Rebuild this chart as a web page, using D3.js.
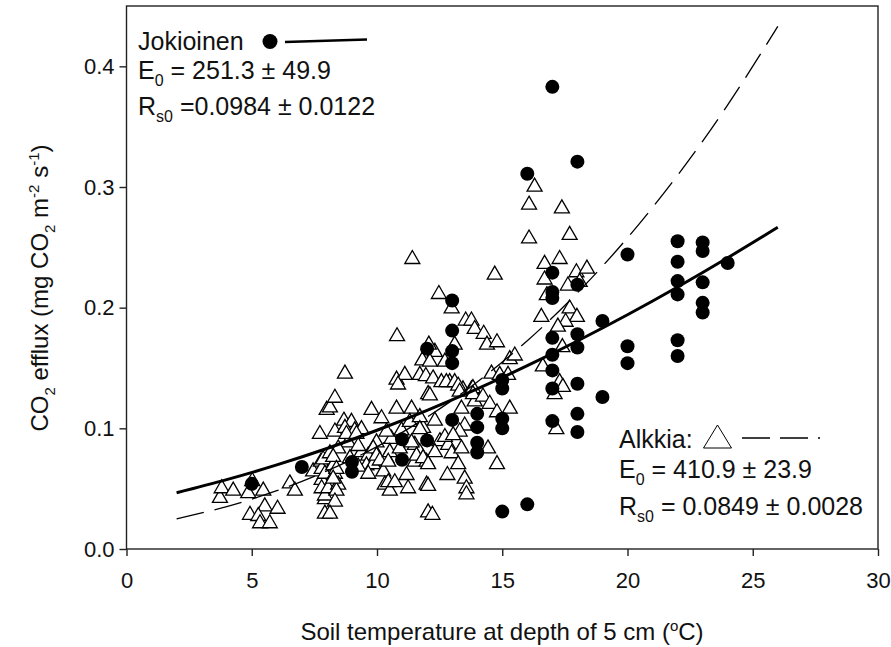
<!DOCTYPE html>
<html>
<head>
<meta charset="utf-8">
<script src="https://cdn.jsdelivr.net/npm/d3@7"></script>
<style>
  body { margin: 0; background: #fff; }
  svg text { font-family: "Liberation Sans", Arial, sans-serif; fill: #111; }
</style>
</head>
<body>
<svg id="chart" width="891" height="647"></svg>
<script>
// Jokioinen (filled circles): soil temp (C) and CO2 efflux
var jokiT = [5, 7, 9, 9, 11, 11, 12, 12,
  13, 13, 13, 13, 13, 14, 14, 14, 14,
  15, 15, 15, 15, 15, 16, 16,
  17, 17, 17, 17, 17, 17, 17, 17, 17,
  18, 18, 18, 18, 18, 18, 18, 19, 19,
  20, 20, 20, 22, 22, 22, 22, 22, 22,
  23, 23, 23, 23, 23, 24];
var jokiFlux = [0.054, 0.068, 0.072, 0.064, 0.091, 0.074, 0.166, 0.090,
  0.206, 0.181, 0.164, 0.154, 0.107, 0.112, 0.101, 0.088, 0.080,
  0.140, 0.133, 0.108, 0.100, 0.031, 0.311, 0.037,
  0.383, 0.229, 0.213, 0.208, 0.175, 0.161, 0.148, 0.133, 0.106,
  0.321, 0.219, 0.178, 0.167, 0.137, 0.112, 0.097, 0.189, 0.126,
  0.244, 0.168, 0.154, 0.255, 0.238, 0.222, 0.211, 0.173, 0.160,
  0.254, 0.247, 0.221, 0.204, 0.196, 0.237];

// Alkkia (open triangles)
var alkT = [3.73, 3.80, 4.26, 4.86, 5.02, 5.46, 5.52, 6.03, 4.93, 5.26, 5.33, 5.72,
  6.52, 6.72, 7.45, 7.72, 7.76, 7.79, 7.79, 7.79, 7.92, 7.92, 7.99, 7.85, 7.92, 7.92,
  8.12, 8.32, 8.72, 8.68, 8.98, 8.32, 8.72, 9.11, 8.85, 8.45, 8.12, 8.25, 8.32,
  8.05, 8.45, 8.38, 8.32, 8.12, 8.92, 8.25, 8.38, 8.25, 8.78,
  9.38, 9.78, 10.18, 9.38, 9.25, 9.65, 9.58, 9.25, 9.98, 9.85, 9.85, 9.18,
  9.98, 9.65, 10.38, 10.25, 10.11,
  10.78, 10.78, 11.11, 10.84, 10.98, 10.58, 10.38, 10.51, 10.91, 10.45, 10.31,
  10.51, 10.45, 10.71, 10.80,
  11.38, 11.71, 11.95, 12.04, 11.84, 11.31, 11.51, 11.71, 11.51, 11.98, 11.98,
  12.04, 12.21, 11.18, 11.24, 11.41, 11.81, 11.71, 11.38, 11.71, 11.58, 11.84,
  12.31, 12.71, 12.11, 12.24, 12.57, 12.90, 12.11, 12.31, 12.51, 12.84, 12.98,
  12.31, 12.04, 12.81, 12.04, 12.47, 12.98, 12.07, 12.71, 12.77,
  13.54, 13.77, 13.90, 13.10, 13.10, 13.43, 13.77, 13.24, 13.30, 13.83, 13.37,
  13.90, 13.50, 13.30, 13.04, 13.37, 13.24, 13.50, 13.57, 13.57, 13.83,
  14.26, 14.39, 14.79, 14.57, 14.23, 14.50, 14.79, 14.43, 14.79, 14.70, 14.90,
  15.30, 15.50, 15.30, 15.23,
  16.29, 16.07, 17.38, 16.07, 17.69, 16.69, 17.29, 16.69, 17.96, 18.38, 16.78,
  17.62, 18.09, 16.56, 17.69, 17.98, 17.53, 17.22, 17.40, 16.62, 17.29, 17.42,
  17.09, 17.16];
var alkFlux = [0.044, 0.052, 0.050, 0.048, 0.058, 0.050, 0.037, 0.035, 0.030, 0.029, 0.023, 0.023,
  0.056, 0.050, 0.066, 0.097, 0.074, 0.068, 0.059, 0.052, 0.043, 0.031, 0.117, 0.076, 0.064, 0.046,
  0.119, 0.127, 0.147, 0.108, 0.107, 0.099, 0.102, 0.100, 0.090, 0.085, 0.081, 0.071, 0.064,
  0.052, 0.055, 0.050, 0.041, 0.031, 0.077, 0.078, 0.068, 0.060, 0.097,
  0.101, 0.117, 0.110, 0.082, 0.087, 0.079, 0.071, 0.070, 0.090, 0.085, 0.072, 0.097,
  0.079, 0.064, 0.077, 0.066, 0.075,
  0.118, 0.142, 0.146, 0.138, 0.100, 0.093, 0.099, 0.082, 0.085, 0.074, 0.055,
  0.050, 0.057, 0.057, 0.178,
  0.118, 0.146, 0.145, 0.130, 0.102, 0.107, 0.088, 0.082, 0.074, 0.074, 0.055,
  0.032, 0.030, 0.063, 0.052, 0.242, 0.158, 0.111, 0.090, 0.101, 0.079, 0.077,
  0.165, 0.157, 0.157, 0.143, 0.140, 0.140, 0.129, 0.108, 0.091, 0.088, 0.081,
  0.082, 0.072, 0.063, 0.054, 0.213, 0.201, 0.171, 0.0945, 0.140,
  0.191, 0.191, 0.184, 0.171, 0.140, 0.134, 0.134, 0.137, 0.132, 0.135, 0.118,
  0.124, 0.104, 0.099, 0.096, 0.085, 0.072, 0.060, 0.052, 0.047, 0.130,
  0.180, 0.171, 0.173, 0.147, 0.128, 0.122, 0.115, 0.085, 0.072, 0.229, 0.146,
  0.159, 0.162, 0.118, 0.146,
  0.302, 0.287, 0.284, 0.259, 0.262, 0.238, 0.242, 0.225, 0.231, 0.234, 0.212,
  0.220, 0.223, 0.194, 0.201, 0.194, 0.190, 0.186, 0.169, 0.153, 0.140, 0.136,
  0.130, 0.101];

// fitted curves (Lloyd & Taylor), read at 2 C steps
var fitT = [2, 4, 6, 8, 10, 12, 14, 16, 18, 20, 22, 24, 26];
var jokiFit = [0.0466, 0.0575, 0.0697, 0.0833, 0.0984, 0.1149, 0.1327, 0.1519, 0.1724, 0.1941, 0.2171, 0.2413, 0.2666];
var alkFit = [0.0250, 0.0352, 0.0483, 0.0647, 0.0849, 0.1093, 0.1384, 0.1726, 0.2123, 0.2579, 0.3097, 0.3680, 0.4331];

var xTicks = [0, 5, 10, 15, 20, 25, 30];
var yTicks = [0, 0.1, 0.2, 0.3, 0.4];

var svg = d3.select("#chart");
var x = d3.scaleLinear().domain([0, 30]).range([126.5, 878]);
var y = d3.scaleLinear().domain([0, 0.45]).range([549, 6]);

var tri = "M0,-6.5L7.5,6.5L-7.5,6.5Z";

// axes
var xAxis = svg.append("g").attr("transform", "translate(0,549)")
  .call(d3.axisBottom(x).tickValues(xTicks).tickSize(7).tickPadding(16).tickFormat(d3.format("d")));
var yAxis = svg.append("g").attr("transform", "translate(126.5,0)")
  .call(d3.axisLeft(y).tickValues(yTicks).tickSize(7).tickPadding(5).tickFormat(d3.format(".1f")));
[xAxis, yAxis].forEach(function(a) {
  a.select(".domain").remove();
  a.selectAll("line").attr("stroke", "#222").attr("stroke-width", 1.4);
  a.selectAll("text").attr("font-size", 22).attr("fill", "#111")
    .attr("font-family", "Liberation Sans, Arial, sans-serif");
});

svg.append("rect")
  .attr("x", x(0)).attr("y", 6)
  .attr("width", x(30) - x(0)).attr("height", 549 - 6)
  .attr("fill", "none").attr("stroke", "#222").attr("stroke-width", 1.4);

// triangles
svg.append("g").selectAll("path")
  .data(alkT.map(function(t, i) { return [t, alkFlux[i]]; }))
  .enter().append("path")
  .attr("d", tri)
  .attr("transform", function(d) { return "translate(" + x(d[0]) + "," + y(d[1]) + ")"; })
  .attr("fill", "#fff").attr("stroke", "#000").attr("stroke-width", 1.3);

// circles
svg.append("g").selectAll("circle")
  .data(jokiT.map(function(t, i) { return [t, jokiFlux[i]]; }))
  .enter().append("circle")
  .attr("cx", function(d) { return x(d[0]); })
  .attr("cy", function(d) { return y(d[1]); })
  .attr("r", 7).attr("fill", "#000");

var line = d3.line().curve(d3.curveNatural);
svg.append("path")
  .attr("d", line(fitT.map(function(t, i) { return [x(t), y(alkFit[i])]; })))
  .attr("fill", "none").attr("stroke", "#000").attr("stroke-width", 1.3)
  .attr("stroke-dasharray", "28,11");
svg.append("path")
  .attr("d", line(fitT.map(function(t, i) { return [x(t), y(jokiFit[i])]; })))
  .attr("fill", "none").attr("stroke", "#000").attr("stroke-width", 3);

// legend - Jokioinen
var fs = 25, sub = 16;
var l1 = svg.append("g");
l1.append("text").attr("x", 138).attr("y", 50).attr("font-size", fs).text("Jokioinen");
l1.append("circle").attr("cx", 270).attr("cy", 41.5).attr("r", 7.5).attr("fill", "#000");
l1.append("line").attr("x1", 285).attr("y1", 42).attr("x2", 367).attr("y2", 39.5)
  .attr("stroke", "#000").attr("stroke-width", 2.6);
var e1 = l1.append("text").attr("x", 138).attr("y", 79).attr("font-size", fs);
e1.append("tspan").text("E");
e1.append("tspan").attr("font-size", sub).attr("dy", 7).text("0");
e1.append("tspan").attr("dy", -7).text(" = 251.3 \u00b1 49.9");
var r1 = l1.append("text").attr("x", 138).attr("y", 115).attr("font-size", fs);
r1.append("tspan").text("R");
r1.append("tspan").attr("font-size", sub).attr("dy", 7).text("s0");
r1.append("tspan").attr("dy", -7).text(" =0.0984 \u00b1 0.0122");

// legend - Alkkia
var l2 = svg.append("g");
l2.append("text").attr("x", 619).attr("y", 448).attr("font-size", fs).text("Alkkia:");
l2.append("path").attr("d", "M0,-11.5L14,11.5L-14,11.5Z")
  .attr("transform", "translate(717.5,436.5)")
  .attr("fill", "#fff").attr("stroke", "#000").attr("stroke-width", 1);
l2.append("line").attr("x1", 742).attr("y1", 438).attr("x2", 820).attr("y2", 438)
  .attr("stroke", "#000").attr("stroke-width", 1.3).attr("stroke-dasharray", "28,10");
var e2 = l2.append("text").attr("x", 619).attr("y", 478).attr("font-size", fs);
e2.append("tspan").text("E");
e2.append("tspan").attr("font-size", sub).attr("dy", 7).text("0");
e2.append("tspan").attr("dy", -7).text(" = 410.9 \u00b1 23.9");
var r2 = l2.append("text").attr("x", 619).attr("y", 515).attr("font-size", fs);
r2.append("tspan").text("R");
r2.append("tspan").attr("font-size", sub).attr("dy", 7).text("s0");
r2.append("tspan").attr("dy", -7).text(" = 0.0849 \u00b1 0.0028");

// axis titles
var xt = svg.append("text").attr("x", 502).attr("y", 640).attr("text-anchor", "middle").attr("font-size", 24);
xt.append("tspan").text("Soil temperature at depth of 5 cm (");
xt.append("tspan").attr("font-size", 15).attr("dy", -9).text("o");
xt.append("tspan").attr("dy", 9).text("C)");

var yt = svg.append("text").attr("transform", "translate(48,288) rotate(-90)")
  .attr("text-anchor", "middle").attr("font-size", 24);
yt.append("tspan").text("CO");
yt.append("tspan").attr("font-size", 15).attr("dy", 7).text("2");
yt.append("tspan").attr("dy", -7).text(" efflux (mg CO");
yt.append("tspan").attr("font-size", 15).attr("dy", 7).text("2");
yt.append("tspan").attr("dy", -7).text(" m");
yt.append("tspan").attr("font-size", 15).attr("dy", -9).text("-2");
yt.append("tspan").attr("dy", 9).text(" s");
yt.append("tspan").attr("font-size", 15).attr("dy", -9).text("-1");
yt.append("tspan").attr("dy", 9).text(")");
</script>
</body>
</html>
